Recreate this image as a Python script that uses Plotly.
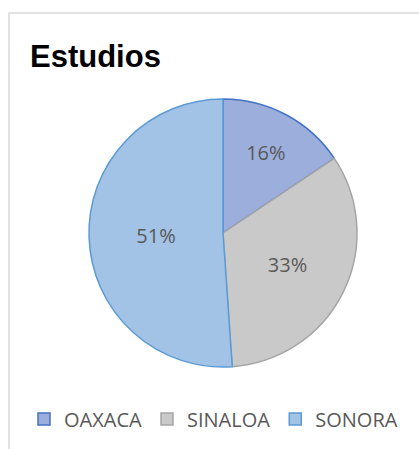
import plotly.graph_objects as go

labels = ["OAXACA", "SINALOA", "SONORA"]
values = [15.6, 33.3, 51.1]
fill_colors = ["#9BAEDC", "#C9C9C9", "#A2C3E6"]
edge_colors = ["#4472C4", "#A5A5A5", "#5B9BD5"]
title_text = "Estudios"

W, H = 419, 449

fig = go.Figure(go.Pie(
    labels=labels,
    values=values,
    sort=False,
    direction="clockwise",
    rotation=0,
    marker=dict(colors=fill_colors, line=dict(color=edge_colors, width=1.5)),
    textinfo="percent",
    texttemplate="%{percent:.0%}",
    textposition="inside",
    insidetextorientation="horizontal",
    textfont=dict(family="Open Sans", size=20, color="#595959"),
    domain=dict(x=[89 / W, 357 / W], y=[82 / H, 350 / H]),
    hoverinfo="label+percent",
))

fig.update_layout(
    width=W, height=H,
    margin=dict(l=0, r=0, t=0, b=0),
    paper_bgcolor="white",
    plot_bgcolor="white",
    showlegend=True,
    legend=dict(
        orientation="h",
        x=0.5 + 4 / W, xanchor="center",
        y=1 - 419 / H, yanchor="middle",
        font=dict(family="Open Sans", size=20, color="#595959"),
        itemwidth=30,
        tracegroupgap=0,
        bgcolor="rgba(0,0,0,0)",
    ),
    annotations=[dict(
        text="<b>" + title_text + "</b>",
        x=28 / W, xref="paper", xanchor="left",
        y=1 - 56 / H, yref="paper", yanchor="middle",
        showarrow=False,
        font=dict(family="Liberation Sans, Arial", size=31, color="#000000"),
    )],
    shapes=[dict(
        type="rect", xref="paper", yref="paper",
        x0=9 / W, x1=1.2, y0=-0.2, y1=1 - 13 / H,
        line=dict(color="#D9D9D9", width=1.5),
        fillcolor="rgba(0,0,0,0)",
        layer="below",
    )],
)

fig.write_html(
    "out.html",
    config={"displayModeBar": False},
    post_script="document.body.style.margin='0';document.body.style.overflow='hidden';",
)
